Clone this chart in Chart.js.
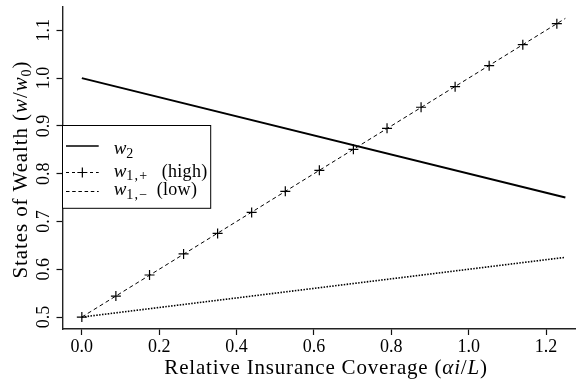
<!DOCTYPE html>
<html>
<head>
<meta charset="utf-8">
<script src="https://cdn.jsdelivr.net/npm/chart.js@4/dist/chart.umd.min.js"></script>
<style>
  html, body { margin: 0; padding: 0; background: #fff; }
  canvas { display: block; }
</style>
</head>
<body>
<canvas id="c" width="582" height="383"></canvas>
<script>
// Relative insurance coverage (alpha*i/L) at the ends of each wealth line
const coverage = [0, 1.25];
// Wealth in the no-loss state
const w2 = [1.0, 0.75];
// Wealth in the loss state, high and low variants
const w1High = [0.5, 1.125];
const w1Low = [0.5, 0.625];
// Plotting symbols along the high line
const markerCoverage = [0, 0.088, 0.175, 0.263, 0.351, 0.439, 0.526, 0.614, 0.702, 0.789, 0.877, 0.965, 1.053, 1.140, 1.228];
const markerW1High = [0.5, 0.544, 0.588, 0.632, 0.675, 0.719, 0.763, 0.807, 0.851, 0.895, 0.939, 0.982, 1.026, 1.070, 1.114];
// Axis ticks
const xTicks = [0, 0.2, 0.4, 0.6, 0.8, 1.0, 1.2];
const xTickLabels = ['0.0', '0.2', '0.4', '0.6', '0.8', '1.0', '1.2'];
const yTicks = [0.5, 0.6, 0.7, 0.8, 0.9, 1.0, 1.1];
const yTickLabels = ['0.5', '0.6', '0.7', '0.8', '0.9', '1.0', '1.1'];

const SERIF = '"Liberation Serif", "Times New Roman", serif';
const INK = '#000';

function fontOf(size, italic) {
  return (italic ? 'italic ' : '') + size + 'px ' + SERIF;
}

function pairs(xs, ys) {
  return xs.map((x, i) => ({ x: x, y: ys[i] }));
}

// Draw a run of text pieces (mixed italic / subscript) on one baseline
function drawRuns(ctx, runs, x, y, align, spacing) {
  let total = 0;
  for (const r of runs) {
    ctx.letterSpacing = (r.sp !== undefined ? r.sp : (spacing || 0)) + 'px';
    ctx.font = fontOf(r.size, r.it);
    r.w = ctx.measureText(r.t).width;
    total += r.w;
  }
  let cx = align === 'center' ? x - total / 2 : (align === 'right' ? x - total : x);
  ctx.textAlign = 'left';
  ctx.textBaseline = 'alphabetic';
  for (const r of runs) {
    ctx.letterSpacing = (r.sp !== undefined ? r.sp : (spacing || 0)) + 'px';
    ctx.font = fontOf(r.size, r.it);
    ctx.fillText(r.t, cx, y + (r.dy || 0));
    cx += r.w;
  }
  ctx.letterSpacing = '0px';
  return total;
}

const TICK = 18, TITLE = 21, SUB = 13, LEG = 18;

const textPlugin = {
  id: 'wealthText',
  afterDraw(chart) {
    const ctx = chart.ctx;
    const area = chart.chartArea;
    const xs = chart.scales.x, ys = chart.scales.y;
    ctx.save();
    ctx.fillStyle = INK;

    // x tick labels
    ctx.font = fontOf(TICK, false);
    ctx.textAlign = 'center';
    ctx.textBaseline = 'alphabetic';
    xTicks.forEach((v, i) => {
      ctx.fillText(xTickLabels[i], xs.getPixelForValue(v), area.bottom + 22.5);
    });

    // y tick labels, turned to read upward
    yTicks.forEach((v, i) => {
      ctx.save();
      ctx.translate(area.left - 13.2, ys.getPixelForValue(v));
      ctx.rotate(-Math.PI / 2);
      ctx.font = fontOf(TICK, false);
      ctx.textAlign = 'center';
      ctx.textBaseline = 'alphabetic';
      ctx.fillText(yTickLabels[i], 0, 0);
      ctx.restore();
    });

    // x axis title
    drawRuns(ctx, [
      { t: 'Relative Insurance Coverage (', size: TITLE },
      { t: 'αi', size: TITLE, it: true },
      { t: '/', size: TITLE },
      { t: 'L', size: TITLE, it: true },
      { t: ')', size: TITLE }
    ], 326, 373.5, 'center', 0.8);

    // y axis title
    ctx.save();
    ctx.translate(26.5, (area.top + area.bottom) / 2 + 2);
    ctx.rotate(-Math.PI / 2);
    drawRuns(ctx, [
      { t: 'States of Wealth (', size: TITLE },
      { t: 'w', size: TITLE, it: true },
      { t: '/', size: TITLE },
      { t: 'w', size: TITLE, it: true },
      { t: '0', size: SUB + 1, dy: 4 },
      { t: ')', size: TITLE }
    ], 0, 0, 'center', 0.9);
    ctx.restore();

    // legend box
    const bx = area.left, by = 125.5, bw = 148.2, bh = 82.8;
    ctx.fillStyle = '#fff';
    ctx.fillRect(bx, by, bw, bh);
    ctx.strokeStyle = INK;
    ctx.lineWidth = 1;
    ctx.strokeRect(bx, by, bw, bh);
    ctx.fillStyle = INK;

    const x0 = 66, x1 = 98.7;
    // solid
    ctx.lineWidth = 1.3;
    ctx.setLineDash([]);
    ctx.beginPath(); ctx.moveTo(x0, 146); ctx.lineTo(x1, 146); ctx.stroke();
    // dashed with cross
    ctx.lineWidth = 1;
    ctx.setLineDash([3, 3]);
    ctx.beginPath(); ctx.moveTo(x0, 172.5); ctx.lineTo(x1, 172.5); ctx.stroke();
    ctx.setLineDash([]);
    ctx.lineWidth = 1.2;
    const mx = (x0 + x1) / 2;
    ctx.beginPath();
    ctx.moveTo(mx - 5, 172.5); ctx.lineTo(mx + 5, 172.5);
    ctx.moveTo(mx, 167.5); ctx.lineTo(mx, 177.5);
    ctx.stroke();
    // short dashes
    ctx.lineWidth = 1;
    ctx.setLineDash([3.5, 2.7]);
    ctx.beginPath(); ctx.moveTo(x0, 191.5); ctx.lineTo(x1, 191.5); ctx.stroke();
    ctx.setLineDash([]);

    drawRuns(ctx, [
      { t: 'w', size: LEG + 1, it: true },
      { t: '2', size: SUB + 1, dy: 3.5, sp: 0.5 }
    ], 113.7, 154, 'left', 0);
    drawRuns(ctx, [
      { t: 'w', size: LEG + 1, it: true },
      { t: '1,+', size: SUB + 1, dy: 3.5, sp: 1.2 }
    ], 113.7, 176.5, 'left', 0);
    drawRuns(ctx, [{ t: '(high)', size: LEG }], 161.7, 176.5, 'left', 0.3);
    drawRuns(ctx, [
      { t: 'w', size: LEG + 1, it: true },
      { t: '1,\u2212', size: SUB + 1, dy: 3.5, sp: 1.2 }
    ], 113.7, 195, 'left', 0);
    drawRuns(ctx, [{ t: '(low)', size: LEG }], 156.7, 195, 'left', 0.3);

    ctx.restore();
  }
};

const axisCommon = {
  type: 'linear',
  ticks: { display: false },
  grid: {
    display: true,
    drawOnChartArea: false,
    drawTicks: true,
    tickLength: 6,
    tickWidth: 1.2,
    tickColor: '#111',
    color: '#111'
  },
  border: { display: true, color: '#222', width: 1.4 }
};

new Chart(document.getElementById('c'), {
  type: 'scatter',
  data: {
    datasets: [
      {
        label: 'w2',
        data: pairs(coverage, w2),
        showLine: true,
        borderColor: INK,
        borderWidth: 2,
        pointRadius: 0
      },
      {
        label: 'w1,+ (high)',
        data: pairs(coverage, w1High),
        showLine: true,
        borderColor: INK,
        borderWidth: 1,
        borderDash: [4, 3],
        pointRadius: 0
      },
      {
        label: 'w1,+ symbols',
        data: pairs(markerCoverage, markerW1High),
        showLine: false,
        pointStyle: 'cross',
        pointRadius: 5,
        pointBorderWidth: 1.2,
        borderColor: INK,
        backgroundColor: INK
      },
      {
        label: 'w1,- (low)',
        data: pairs(coverage, w1Low),
        showLine: true,
        borderColor: INK,
        borderWidth: 1.6,
        borderDash: [1.5, 1.4],
        pointRadius: 0
      }
    ]
  },
  options: {
    responsive: false,
    devicePixelRatio: 1,
    animation: false,
    layout: { padding: { top: 4, right: 0, bottom: 0, left: 0 } },
    plugins: { legend: { display: false }, tooltip: { enabled: false } },
    scales: {
      x: Object.assign({}, axisCommon, {
        position: 'bottom',
        min: -0.05,
        max: 1.277,
        afterBuildTicks: s => { s.ticks = xTicks.map(v => ({ value: v })); },
        afterFit: s => { s.height = 54; }
      }),
      y: Object.assign({}, axisCommon, {
        position: 'left',
        min: 0.475,
        max: 1.1505,
        afterBuildTicks: s => { s.ticks = yTicks.map(v => ({ value: v })); },
        afterFit: s => { s.width = 62.5; }
      })
    }
  },
  plugins: [textPlugin]
});
</script>
</body>
</html>
